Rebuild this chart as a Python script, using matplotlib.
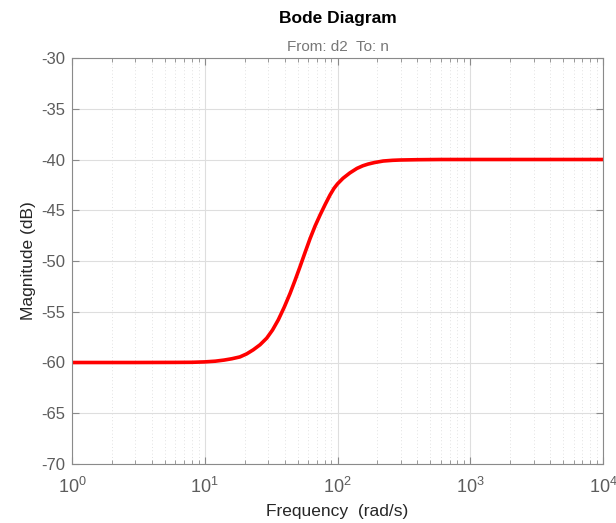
import matplotlib
matplotlib.use("Agg")
import matplotlib.pyplot as plt
from matplotlib.ticker import LogLocator, FixedLocator, NullFormatter

# Data
freq = [1.0, 3.0, 6.0, 8.0, 10.0, 12.0, 14.0, 16.0, 18.4, 20.7, 23.2, 26.1, 29.3, 32.4,
        35.8, 39.7, 43.9, 47.9, 52.2, 57.0, 62.1, 67.8, 73.9, 80.6, 87.8, 94.0,
        100.0, 110.0, 124.0, 140.0, 155.0, 170.0, 190.0, 221.0, 260.0, 296.0,
        400.0, 600.0, 1000.0, 10000.0]
mag_db = [-60.0, -60.0, -59.99, -59.98, -59.94, -59.87, -59.76, -59.63, -59.45, -59.15,
          -58.75, -58.25, -57.6, -56.8, -55.8, -54.55, -53.2, -51.9, -50.56, -49.15,
          -47.8, -46.55, -45.47, -44.45, -43.5, -42.85, -42.4, -41.85, -41.32, -40.88,
          -40.62, -40.45, -40.3, -40.15, -40.08, -40.05, -40.02, -40.0, -40.0, -40.0]

xlim = (1, 1e4)
ylim = (-70, -30)
yticks = [-70, -65, -60, -55, -50, -45, -40, -35, -30]

plt.rcParams['font.family'] = ['Liberation Sans', 'DejaVu Sans']
plt.rcParams['axes.unicode_minus'] = False
plt.rcParams['mathtext.fontset'] = 'custom'
plt.rcParams['mathtext.rm'] = 'Liberation Sans'
plt.rcParams['mathtext.it'] = 'Liberation Sans'
plt.rcParams['mathtext.bf'] = 'Liberation Sans:bold'

fig = plt.figure(figsize=(6.16, 5.23), dpi=100)
ax = fig.add_axes([72/616, 59/523, 531/616, 406/523])

ax.semilogx(freq, mag_db, color='#ff0000', lw=2.6, solid_joinstyle='round')

ax.set_xlim(*xlim)
ax.set_ylim(*ylim)
ax.yaxis.set_major_locator(FixedLocator(yticks))
ax.xaxis.set_major_locator(LogLocator(base=10, numticks=10))
ax.xaxis.set_minor_locator(LogLocator(base=10, subs=range(2, 10), numticks=20))
ax.xaxis.set_minor_formatter(NullFormatter())

ax.grid(True, which='major', color='#dedede', lw=0.8, ls='-')
ax.grid(True, which='minor', axis='x', color='#d8d8d8', lw=0.6, ls=(0, (1, 3)))
ax.set_axisbelow(True)

axis_col = '#8a8a8a'
for s in ax.spines.values():
    s.set_color(axis_col)
    s.set_linewidth(0.8)
ax.tick_params(which='both', direction='in', top=True, right=True, colors=axis_col,
               labelcolor='#5c5c5c')
ax.tick_params(axis='y', labelsize=12, pad=5)
ax.tick_params(axis='x', labelsize=13, pad=9)
ax.tick_params(which='major', length=5)
ax.tick_params(which='minor', length=3)

ax.set_xlabel('Frequency  (rad/s)', fontsize=12.5, color='#262626', labelpad=5)
ax.set_ylabel('Magnitude (dB)', fontsize=12.5, color='#262626', labelpad=4)

cx = 0.5 * (72 + 603) / 616
fig.text(cx, 1 - 18/523, 'Bode Diagram', ha='center', va='center',
         fontsize=12.5, fontweight='bold', color='#000000')
fig.text(cx, 1 - 47/523, 'From: d2  To: n', ha='center', va='center',
         fontsize=11, color='#777777')

fig.savefig('out.png', dpi=100)
